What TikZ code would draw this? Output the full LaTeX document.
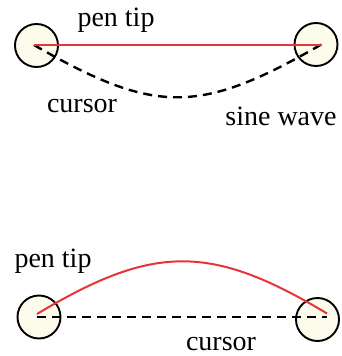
\documentclass[tikz,border=0pt]{standalone}
\usepackage{fontspec}
\setmainfont{Liberation Serif}
\definecolor{cream}{RGB}{253,252,236}
\definecolor{penred}{RGB}{232,52,56}
\begin{document}
\begin{tikzpicture}[x=1pt,y=-1pt,
  ring/.style={circle,draw=black,line width=1.9pt,fill=cream,minimum size=43pt,inner sep=0pt},
  penline/.style={draw=penred,line width=2pt},
  cursline/.style={draw=black,line width=2.4pt,dash pattern=on 9pt off 6pt},
  lbl/.style={font=\fontsize{28}{32}\selectfont,anchor=base,inner sep=0pt}]
\useasboundingbox (0,0) rectangle (341,356);
% top
\node[ring] (c1) at (36.5,45.5) {};
\node[ring] (c2) at (316,44.5) {};
\coordinate (a1) at (34,45);
\coordinate (a2) at (322,45);
\coordinate (b2) at (323,43.5);
\draw[cursline] (a1) to[out=-30,in=-150,looseness=1.25] (b2);
\draw[penline] (a1) -- (a2);
\node[lbl] (t1) at (116,26) {pen tip};
\node[lbl] (t2) at (82,112) {cursor};
\node[lbl] (t3) at (281,125) {sine wave};
% bottom
\node[ring] (c3) at (39,317) {};
\node[ring] (c4) at (317.5,319.5) {};
\coordinate (p1) at (37,314);
\coordinate (p2) at (327,313.5);
\coordinate (q1) at (37,317);
\coordinate (q2) at (327,317);
\draw[cursline] (q1) -- (q2);
\draw[penline] (p1) to[out=31,in=149,looseness=1.2] (p2);
\node[lbl] (t4) at (53,267) {pen tip};
\node[lbl] (t5) at (221,350) {cursor};
\end{tikzpicture}
\end{document}
